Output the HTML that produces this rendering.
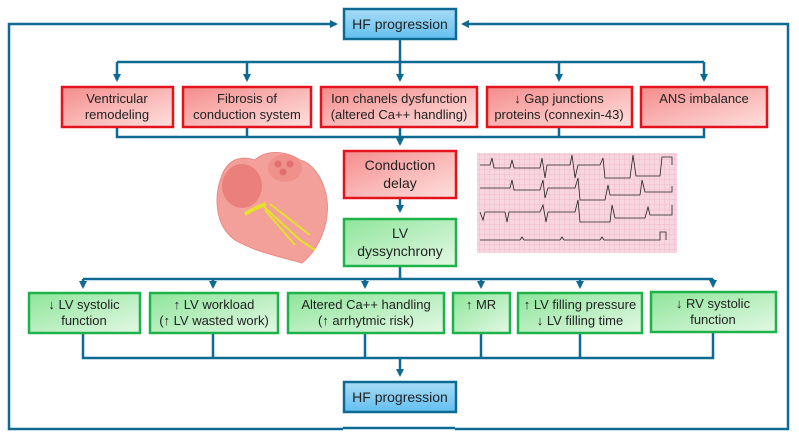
<!DOCTYPE html>
<html><head><meta charset="utf-8"><style>
html,body{margin:0;padding:0;background:#fff;width:799px;height:440px;overflow:hidden}
svg text{font-family:"Liberation Sans",Arial,sans-serif;fill:#222}
</style></head><body>
<svg width="799" height="440" viewBox="0 0 799 440" xmlns="http://www.w3.org/2000/svg">
<defs>
<linearGradient id="r" x1="0" y1="0" x2="1" y2="1"><stop offset="0" stop-color="#f58c8c"/><stop offset="1" stop-color="#fde0de"/></linearGradient>
<linearGradient id="g" x1="0" y1="0" x2="1" y2="1"><stop offset="0" stop-color="#8ee59a"/><stop offset="1" stop-color="#e3f8e4"/></linearGradient>
<linearGradient id="b" x1="0" y1="0" x2="0" y2="1"><stop offset="0" stop-color="#a8dcf7"/><stop offset="1" stop-color="#62bff0"/></linearGradient>
<pattern id="grid" width="5" height="5" patternUnits="userSpaceOnUse"><path d="M5 0V5H0" fill="none" stroke="#e9a3b8" stroke-width="0.5"/></pattern>
<marker id="a" markerWidth="8" markerHeight="8" refX="6" refY="4" orient="auto" markerUnits="userSpaceOnUse"><path d="M0,0 L8,4 L0,8 Z" fill="#0e6a93"/></marker>
</defs>
<g fill="none" stroke="#0e6a93" stroke-width="2.5">
<!-- outer loop -->
<path d="M343 429 H9 V24 H336" marker-end="url(#a)"/>
<path d="M455 429 H788 V24 H463" marker-end="url(#a)"/>
<path d="M343 428 H455"/>
<!-- top branches -->
<path d="M400 39 V62"/>
<path d="M117 62 H704"/>
<path d="M117 62 V80" marker-end="url(#a)"/>
<path d="M247 62 V80" marker-end="url(#a)"/>
<path d="M400 62 V80" marker-end="url(#a)"/>
<path d="M559 62 V80" marker-end="url(#a)"/>
<path d="M704 62 V80" marker-end="url(#a)"/>
<!-- red to conduction -->
<path d="M117 127 V137 H704 V127"/>
<path d="M247 127 V137 M400 127 V144 M559 127 V137"/>
<path d="M400 137 V144" marker-end="url(#a)"/>
<path d="M400 198 V211" marker-end="url(#a)"/>
<path d="M400 266 V279"/>
<path d="M83 279 H713"/>
<path d="M83 279 V287" marker-end="url(#a)"/>
<path d="M213 279 V287" marker-end="url(#a)"/>
<path d="M365 279 V287" marker-end="url(#a)"/>
<path d="M481 279 V287" marker-end="url(#a)"/>
<path d="M580 279 V287" marker-end="url(#a)"/>
<path d="M713 279 V286" marker-end="url(#a)"/>
<path d="M83 333 V358 H713 V332"/>
<path d="M213 333 V358 M365 333 V358 M481 333 V358 M580 333 V358"/>
<path d="M400 358 V375" marker-end="url(#a)"/>
</g>
<!-- blue boxes -->
<rect x="344" y="9" width="112" height="30" fill="url(#b)" stroke="#0e6a93" stroke-width="2.5"/>
<text x="400" y="29" text-anchor="middle" font-size="14">HF progression</text>
<rect x="344" y="382" width="112" height="30" fill="url(#b)" stroke="#0e6a93" stroke-width="2.5"/>
<text x="400" y="402" text-anchor="middle" font-size="14">HF progression</text>
<!-- red boxes -->
<g stroke="#e3121b" stroke-width="2.5" fill="url(#r)">
<rect x="62" y="87" width="111" height="40"/>
<rect x="183" y="87" width="128" height="40"/>
<rect x="321" y="87" width="156" height="40"/>
<rect x="487" y="87" width="145" height="40"/>
<rect x="641" y="87" width="126" height="40"/>
<rect x="344" y="151" width="112" height="47"/>
</g>
<g font-size="13" text-anchor="middle">
<text x="117" y="103">Ventricular</text><text x="117" y="119">remodeling</text>
<text x="247" y="103">Fibrosis of</text><text x="247" y="119">conduction system</text>
<text x="399" y="103">Ion chanels dysfunction</text><text x="399" y="119">(altered Ca++ handling)</text>
<text x="559" y="103">↓ Gap junctions</text><text x="559" y="119">proteins (connexin-43)</text>
<text x="704" y="103">ANS imbalance</text>
<text x="400" y="170" font-size="14">Conduction</text><text x="400" y="188" font-size="14">delay</text>
</g>
<!-- green boxes -->
<g stroke="#1db34a" stroke-width="2.5" fill="url(#g)">
<rect x="344" y="219" width="112" height="47"/>
<rect x="29" y="293" width="111" height="40"/>
<rect x="150" y="293" width="128" height="40"/>
<rect x="288" y="293" width="156" height="40"/>
<rect x="453" y="293" width="57" height="40"/>
<rect x="518" y="293" width="124" height="40"/>
<rect x="651" y="292" width="125" height="40"/>
</g>
<g font-size="13" text-anchor="middle">
<text x="400" y="238" font-size="14">LV</text><text x="400" y="256" font-size="14">dyssynchrony</text>
<text x="84" y="309">↓ LV systolic</text><text x="84" y="325">function</text>
<text x="214" y="309">↑ LV workload</text><text x="214" y="325">(↑ LV wasted work)</text>
<text x="366" y="309">Altered Ca++ handling</text><text x="366" y="325">(↑ arrhytmic risk)</text>
<text x="481" y="309">↑ MR</text>
<text x="580" y="309">↑ LV filling pressure</text><text x="580" y="325">↓ LV filling time</text>
<text x="713" y="308">↓ RV systolic</text><text x="713" y="324">function</text>
</g>
<!-- heart -->
<g>
<path d="M222 175 C214 195 214 225 235 240 C255 252 285 258 302 263 C318 250 330 225 327 200 C324 178 312 163 300 160 C285 150 265 150 255 160 C240 155 228 160 222 175 Z" fill="#f4a09a" stroke="#e98a84" stroke-width="1"/>
<ellipse cx="242" cy="186" rx="20" ry="22" fill="#eb7f7c"/>
<ellipse cx="285" cy="168" rx="17" ry="14" fill="#f0908b"/>
<circle cx="278" cy="164" r="3.5" fill="#e07070"/><circle cx="290" cy="164" r="3.5" fill="#e07070"/><circle cx="283" cy="172" r="3.5" fill="#e07070"/>
<path d="M262 205 L300 240 L315 250 M265 210 L295 245 M270 204 L310 235" stroke="#e3e22a" stroke-width="2" fill="none"/>
<path d="M245 214 C255 208 260 206 266 204" stroke="#e3e22a" stroke-width="4" fill="none"/>
</g>
<!-- ECG -->
<rect x="477" y="153" width="200" height="100" fill="#f7d6e0"/>
<rect x="477" y="153" width="200" height="100" fill="url(#grid)"/>
<g stroke="#222" stroke-width="0.8" fill="none">
<path d="M480 165 H490 L492 158 L494 168 H510 L512 160 L514 168 H540 L542 158 L545 178 L547 165 H570 L572 155 L575 178 L578 165 H600 L603 158 L605 178 H630 L633 155 L636 176 H660 L662 157 H672 V165"/>
<path d="M480 188 H510 L512 180 L514 190 H540 L543 180 L545 198 L548 188 H575 L578 178 L580 200 H605 L608 185 L610 195 H640 L642 180 L645 192 H672 V186"/>
<path d="M480 212 L483 220 L485 212 H505 L507 222 L509 212 H540 L543 205 L546 222 L548 212 H575 L578 200 L580 222 H610 L612 205 L615 218 H645 L648 207 L650 215 H672 V205"/>
<path d="M480 240 H520 L522 237 L524 240 H560 L562 237 L564 240 H600 L602 237 L604 240 H660 V232 H666 V240"/>
</g>
</svg>
</body></html>
